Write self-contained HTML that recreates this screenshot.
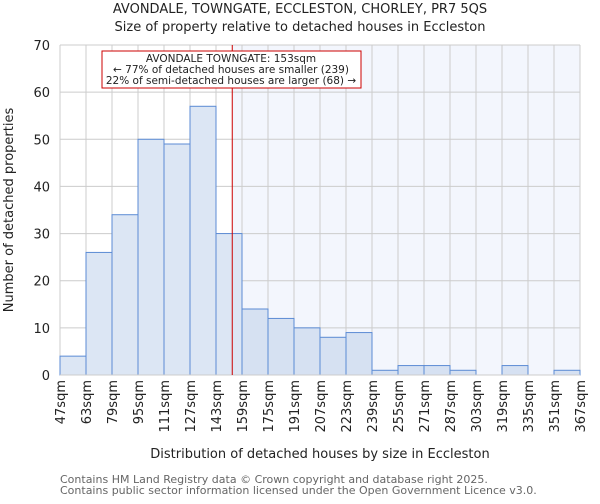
<!DOCTYPE html>
<html><head><meta charset="utf-8"><style>
body{margin:0;background:#fff;font-family:"DejaVu Sans","Liberation Sans",sans-serif}
svg text{font-family:"DejaVu Sans","Liberation Sans",sans-serif}
</style></head><body>
<svg id="chart" width="600" height="500" xmlns="http://www.w3.org/2000/svg">
<text x="300" y="13" text-anchor="middle" font-size="13" fill="#222">AVONDALE, TOWNGATE, ECCLESTON, CHORLEY, PR7 5QS</text>
<text x="300" y="31" text-anchor="middle" font-size="13" fill="#222">Size of property relative to detached houses in Eccleston</text>
<g id="bg"></g><g id="grid"></g><g id="bars"></g><g id="axes"></g>
<text transform="translate(13,210) rotate(-90)" text-anchor="middle" font-size="13" fill="#222">Number of detached properties</text>
<text x="320" y="458" text-anchor="middle" font-size="13" fill="#222">Distribution of detached houses by size in Eccleston</text>
<text x="60" y="483" font-size="11" fill="#666">Contains HM Land Registry data © Crown copyright and database right 2025.</text>
<text x="60" y="494" font-size="11" fill="#666">Contains public sector information licensed under the Open Government Licence v3.0.</text>
</svg>
<script>
const binStarts=[47,63,79,95,111,127,143,159,175,191,207,223,239,255,271,287,303,319,335,351];
const counts=[4,26,34,50,49,57,30,14,12,10,8,9,1,2,2,1,0,2,0,1];
const xTickLabels=["47sqm","63sqm","79sqm","95sqm","111sqm","127sqm","143sqm","159sqm","175sqm","191sqm","207sqm","223sqm","239sqm","255sqm","271sqm","287sqm","303sqm","319sqm","335sqm","351sqm","367sqm"];
const yTicks=[0,10,20,30,40,50,60,70];
const markerValue=153;
const annotationLines=["AVONDALE TOWNGATE: 153sqm","← 77% of detached houses are smaller (239)","22% of semi-detached houses are larger (68) →"];
const NS="http://www.w3.org/2000/svg";
const X0=60,X1=580,Y0=375,Y1=45,xmin=47,xmax=367,ymax=70;
const xs=v=>X0+(v-xmin)/(xmax-xmin)*(X1-X0);
const ys=v=>Y0-v/ymax*(Y0-Y1);
function mk(tag,attrs,parent,text){const e=document.createElementNS(NS,tag);for(const k in attrs)e.setAttribute(k,attrs[k]);if(text!==undefined)e.textContent=text;document.getElementById(parent).appendChild(e);return e;}
const mx=xs(markerValue);
let r=mk('rect',{x:mx,y:Y1,width:X1-mx,height:Y0-Y1,fill:'#f3f6fd'},'bg');


yTicks.forEach(t=>{
 let l=mk('line',{x1:X0,x2:X1,y1:ys(t),y2:ys(t),stroke:'#ccc'},'grid');
 
 
 let tx=mk('text',{x:X0-10,y:ys(t)+5,'text-anchor':'end','font-size':13,fill:'#222'},'axes',String(t));
 
 
});
xTickLabels.forEach((lab,i)=>{
 const v=xmin+i*16;
 let l=mk('line',{x1:xs(v),x2:xs(v),y1:Y1,y2:Y0,stroke:'#ccc'},'grid');
 
 
 let tx=mk('text',{transform:`translate(${xs(v)+5},380) rotate(-90)`,'text-anchor':'end','font-size':13,fill:'#222'},'axes',lab);
 
 
});
binStarts.forEach((b,i)=>{
 if(counts[i]<=0)return;
 const right=b>=markerValue;
 let bar=mk('rect',{x:xs(b),y:ys(counts[i]),width:xs(b+16)-xs(b),height:Y0-ys(counts[i]),fill:right?'#d6e1f2':'#dce6f4',stroke:'#5b8bd4','stroke-width':1},'bars');
 
 
});
let ax=mk('line',{x1:X0,x2:X1,y1:Y0,y2:Y0,stroke:'#ccc'},'axes');


let ml=mk('line',{x1:mx,x2:mx,y1:Y1,y2:Y0,stroke:'#cc0000','stroke-width':1},'axes');


let box=mk('rect',{x:102,y:51,width:259,height:37,fill:'#fff',stroke:'#cc0000'},'axes');


annotationLines.forEach((t,i)=>{
 let tx=mk('text',{x:231,y:62+i*11,'text-anchor':'middle','font-size':10.5,fill:'#222'},'axes',t);
 
 
});
</script>
</body></html>
